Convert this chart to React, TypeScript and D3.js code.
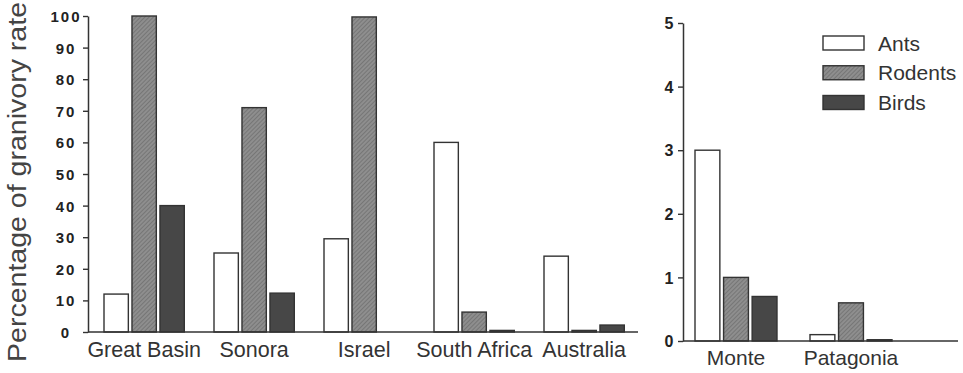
import React, { useEffect, useRef } from "react";
import * as d3 from "d3";

// Granivory by ants, rodents and birds across deserts
const seriesNames = ["Ants", "Rodents", "Birds"];

const categoriesMain = ["Great Basin", "Sonora", "Israel", "South Africa", "Australia"];
const antsMain = [12, 25, 29.5, 60, 24];
const rodentsMain = [100, 71, 99.7, 6.3, 0.5];
const birdsMain = [40, 12.3, 0, 0.5, 2.2];
const ticksMain = [0, 10, 20, 30, 40, 50, 60, 70, 80, 90, 100];

const categoriesSouthAm = ["Monte", "Patagonia"];
const antsSouthAm = [3, 0.1];
const rodentsSouthAm = [1, 0.6];
const birdsSouthAm = [0.7, 0.02];
const ticksSouthAm = [0, 1, 2, 3, 4, 5];

const yTitle = "Percentage of granivory rate";

const W = 963;
const H = 373;
const FONT = "'Liberation Sans', Arial, Helvetica, sans-serif";
const INK = "#333";
const TEXT = "#333";

export default function App() {
  const ref = useRef<SVGSVGElement | null>(null);

  useEffect(() => {
    const svg = d3.select(ref.current);
    svg.selectAll("*").remove();

    // hatched grey used for the rodent bars
    const defs = svg.append("defs");
    const pat = defs
      .append("pattern")
      .attr("id", "rodentHatch")
      .attr("patternUnits", "userSpaceOnUse")
      .attr("width", 3)
      .attr("height", 3)
      .attr("patternTransform", "rotate(45)");
    pat.append("rect").attr("width", 3).attr("height", 3).attr("fill", "#8e8e8e");
    pat.append("rect").attr("width", 1).attr("height", 3).attr("fill", "#767676");

    const fills = ["#ffffff", "url(#rodentHatch)", "#474747"];

    type Panel = {
      categories: string[];
      series: number[][];
      yMax: number;
      ticks: number[];
      axisX: number;
      yTop: number;
      yBase: number;
      bandStart: number;
      step: number;
      padInner: number;
      lineEnd: number;
      tickFont: number;
      tickSpacing: number;
      tickLabelX: number;
      catFont: number;
      catBaseline: number;
    };

    const drawPanel = (p: Panel) => {
      const g = svg.append("g");
      const n = p.categories.length;
      const x = d3
        .scaleBand<string>()
        .domain(p.categories)
        .range([p.bandStart, p.bandStart + p.step * (n - p.padInner)])
        .paddingInner(p.padInner)
        .paddingOuter(0);
      const xs = d3
        .scaleBand<string>()
        .domain(seriesNames)
        .range([0, x.bandwidth()])
        .paddingInner(0.13);
      const y = d3.scaleLinear().domain([0, p.yMax]).range([p.yBase, p.yTop]);

      // bars
      p.series.forEach((vals, si) => {
        g.append("g")
          .selectAll("rect")
          .data(p.categories.map((c, i) => ({ c, v: vals[i] })).filter((d) => d.v > 0))
          .join("rect")
          .attr("x", (d) => (x(d.c) as number) + (xs(seriesNames[si]) as number))
          .attr("y", (d) => y(d.v))
          .attr("width", xs.bandwidth())
          .attr("height", (d) => p.yBase - y(d.v))
          .attr("fill", fills[si])
          .attr("stroke", INK)
          .attr("stroke-width", 1.4);
      });

      // y axis
      const ax = g
        .append("g")
        .attr("transform", `translate(${p.axisX},0)`)
        .call(
          d3
            .axisLeft(y)
            .tickValues(p.ticks)
            .tickSizeInner(5)
            .tickSizeOuter(0)
            .tickFormat((d) => String(d))
        );
      ax.select(".domain").attr("stroke", INK).attr("stroke-width", 1.5);
      ax.selectAll(".tick line").attr("stroke", INK).attr("stroke-width", 1.4);
      ax.selectAll(".tick text")
        .attr("x", p.tickLabelX - p.axisX)
        .attr("text-anchor", "middle")
        .attr("dy", "0.36em")
        .attr("fill", "#222")
        .style("font-family", FONT)
        .style("font-size", `${p.tickFont}px`)
        .style("font-weight", "bold")
        .style("letter-spacing", `${p.tickSpacing}px`);

      // baseline
      g.append("line")
        .attr("x1", p.axisX)
        .attr("x2", p.lineEnd)
        .attr("y1", p.yBase)
        .attr("y2", p.yBase)
        .attr("stroke", INK)
        .attr("stroke-width", 1.5);

      // category labels
      g.append("g")
        .selectAll("text")
        .data(p.categories)
        .join("text")
        .attr("x", (d) => (x(d) as number) + x.bandwidth() / 2)
        .attr("y", p.catBaseline)
        .attr("text-anchor", "middle")
        .attr("fill", TEXT)
        .style("font-family", FONT)
        .style("font-size", `${p.catFont}px`)
        .text((d) => d);
    };

    drawPanel({
      categories: categoriesMain,
      series: [antsMain, rodentsMain, birdsMain],
      yMax: 100,
      ticks: ticksMain,
      axisX: 88,
      yTop: 16,
      yBase: 332,
      bandStart: 104,
      step: 110,
      padInner: 0.27,
      lineEnd: 638,
      tickFont: 15,
      tickSpacing: 2,
      tickLabelX: 66,
      catFont: 21.5,
      catBaseline: 357,
    });

    drawPanel({
      categories: categoriesSouthAm,
      series: [antsSouthAm, rodentsSouthAm, birdsSouthAm],
      yMax: 5,
      ticks: ticksSouthAm,
      axisX: 683,
      yTop: 23,
      yBase: 341,
      bandStart: 695,
      step: 115,
      padInner: 0.287,
      lineEnd: 958,
      tickFont: 16,
      tickSpacing: 0,
      tickLabelX: 669,
      catFont: 21,
      catBaseline: 365,
    });

    // y axis title
    svg
      .append("text")
      .attr("transform", "translate(26,182) rotate(-90)")
      .attr("text-anchor", "middle")
      .attr("fill", "#444")
      .attr("textLength", 360)
      .attr("lengthAdjust", "spacingAndGlyphs")
      .style("font-family", FONT)
      .style("font-size", "26px")
      .text(yTitle);

    // legend
    const legendY = d3.scalePoint<string>().domain(seriesNames).range([43, 102.5]);
    const leg = svg.append("g");
    seriesNames.forEach((s, i) => {
      const cy = legendY(s) as number;
      leg
        .append("rect")
        .attr("x", 823)
        .attr("y", cy - 7)
        .attr("width", 41)
        .attr("height", 14)
        .attr("fill", fills[i])
        .attr("stroke", INK)
        .attr("stroke-width", 1.4);
      leg
        .append("text")
        .attr("x", 878)
        .attr("y", cy + 7.5)
        .attr("fill", TEXT)
        .style("font-family", FONT)
        .style("font-size", "21px")
        .text(s);
    });
  }, []);

  return (
    <svg
      ref={ref}
      width={W}
      height={H}
      viewBox={`0 0 ${W} ${H}`}
      style={{ position: "absolute", left: 0, top: 0, background: "#fff", display: "block" }}
    />
  );
}
